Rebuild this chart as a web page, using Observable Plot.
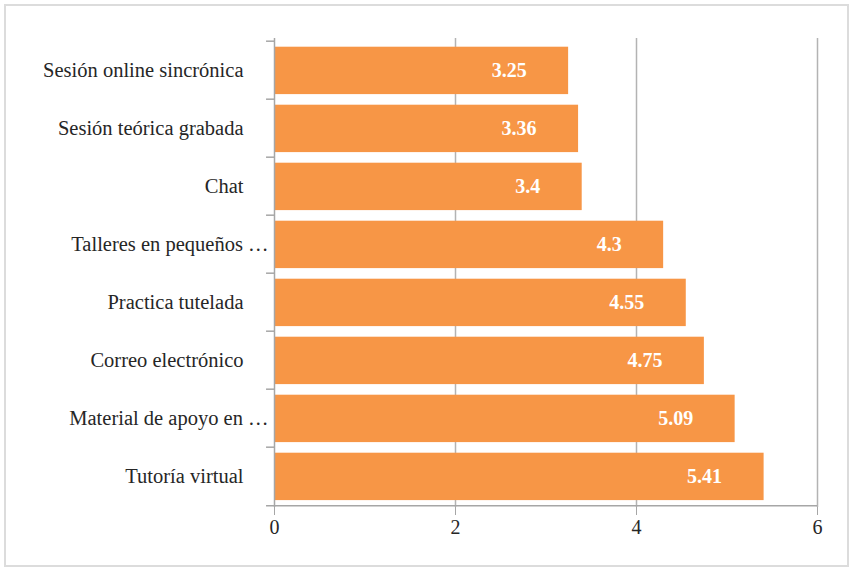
<!DOCTYPE html>
<html><head><meta charset="utf-8">
<script src="https://cdn.jsdelivr.net/npm/d3@7"></script>
<script src="https://cdn.jsdelivr.net/npm/@observablehq/plot@0.6"></script>
<style>
html,body{margin:0;padding:0;background:#fff;}
#wrap{position:relative;width:850px;height:569px;}
#border{position:absolute;left:4px;top:4px;width:841px;height:559px;border:2px solid #dcdcdc;pointer-events:none;}
</style>
</head><body>
<div id="wrap"><div id="border"></div></div>
<script>
const categories = ["Sesión online sincrónica","Sesión teórica grabada","Chat","Talleres en pequeños …","Practica tutelada","Correo electrónico","Material de apoyo en …","Tutoría virtual"];
const values = [3.25, 3.36, 3.4, 4.3, 4.55, 4.75, 5.09, 5.41];
const xTicks = [0, 2, 4, 6];

const data = categories.map((c, i) => ({cat: c, val: values[i]}));
const font = "'Liberation Serif', 'Times New Roman', serif";
const bandH = (507 - 38) / categories.length;
const truncated = categories.filter(c => c.endsWith("…"));
const full = categories.filter(c => !c.endsWith("…"));

const chart = Plot.plot({
  width: 850, height: 569,
  marginLeft: 274, marginRight: 33, marginTop: 38, marginBottom: 62,
  style: {fontFamily: font, fontSize: "20px", color: "#262626", background: "transparent"},
  x: {domain: [0, 6], ticks: xTicks, label: null},
  y: {domain: categories, padding: 0, label: null},
  marks: [
    Plot.ruleX(xTicks.slice(1), {stroke: "#b3b3b3", strokeWidth: 1.5}),
    Plot.barX(data, {y: "cat", x: "val", fill: "#F79646", insetTop: 5.7, insetBottom: 4.9}),
    Plot.text(data, {y: "cat", x: "val", text: d => String(d.val), fill: "white", fontWeight: "bold", fontSize: 20, fontFamily: font, textAnchor: "end", dx: -42}),
    Plot.ruleY(categories, {y: d => d, x1: -0.088, x2: 0, dy: -bandH / 2, stroke: "#a6a6a6", strokeWidth: 1.5}),
    Plot.ruleY([categories[categories.length - 1]], {y: d => d, x1: -0.088, x2: 6, dy: bandH / 2, stroke: "#a6a6a6", strokeWidth: 1.5}),
    Plot.ruleX([0], {stroke: "#a6a6a6", strokeWidth: 1.5}),
    Plot.axisX({ticks: xTicks, tickFormat: d3.format("d"), tickSize: 8, tickPadding: 4, stroke: "#a6a6a6", fontSize: 20, fontFamily: font, label: null}),
    Plot.axisY({ticks: full, tickSize: 0, tickPadding: 31, fontSize: 20.5, fontFamily: font, label: null}),
    Plot.axisY({ticks: truncated, tickSize: 0, tickPadding: 6, fontSize: 20.5, fontFamily: font, label: null})
  ]
});
document.getElementById("wrap").prepend(chart);
</script>
</body></html>
